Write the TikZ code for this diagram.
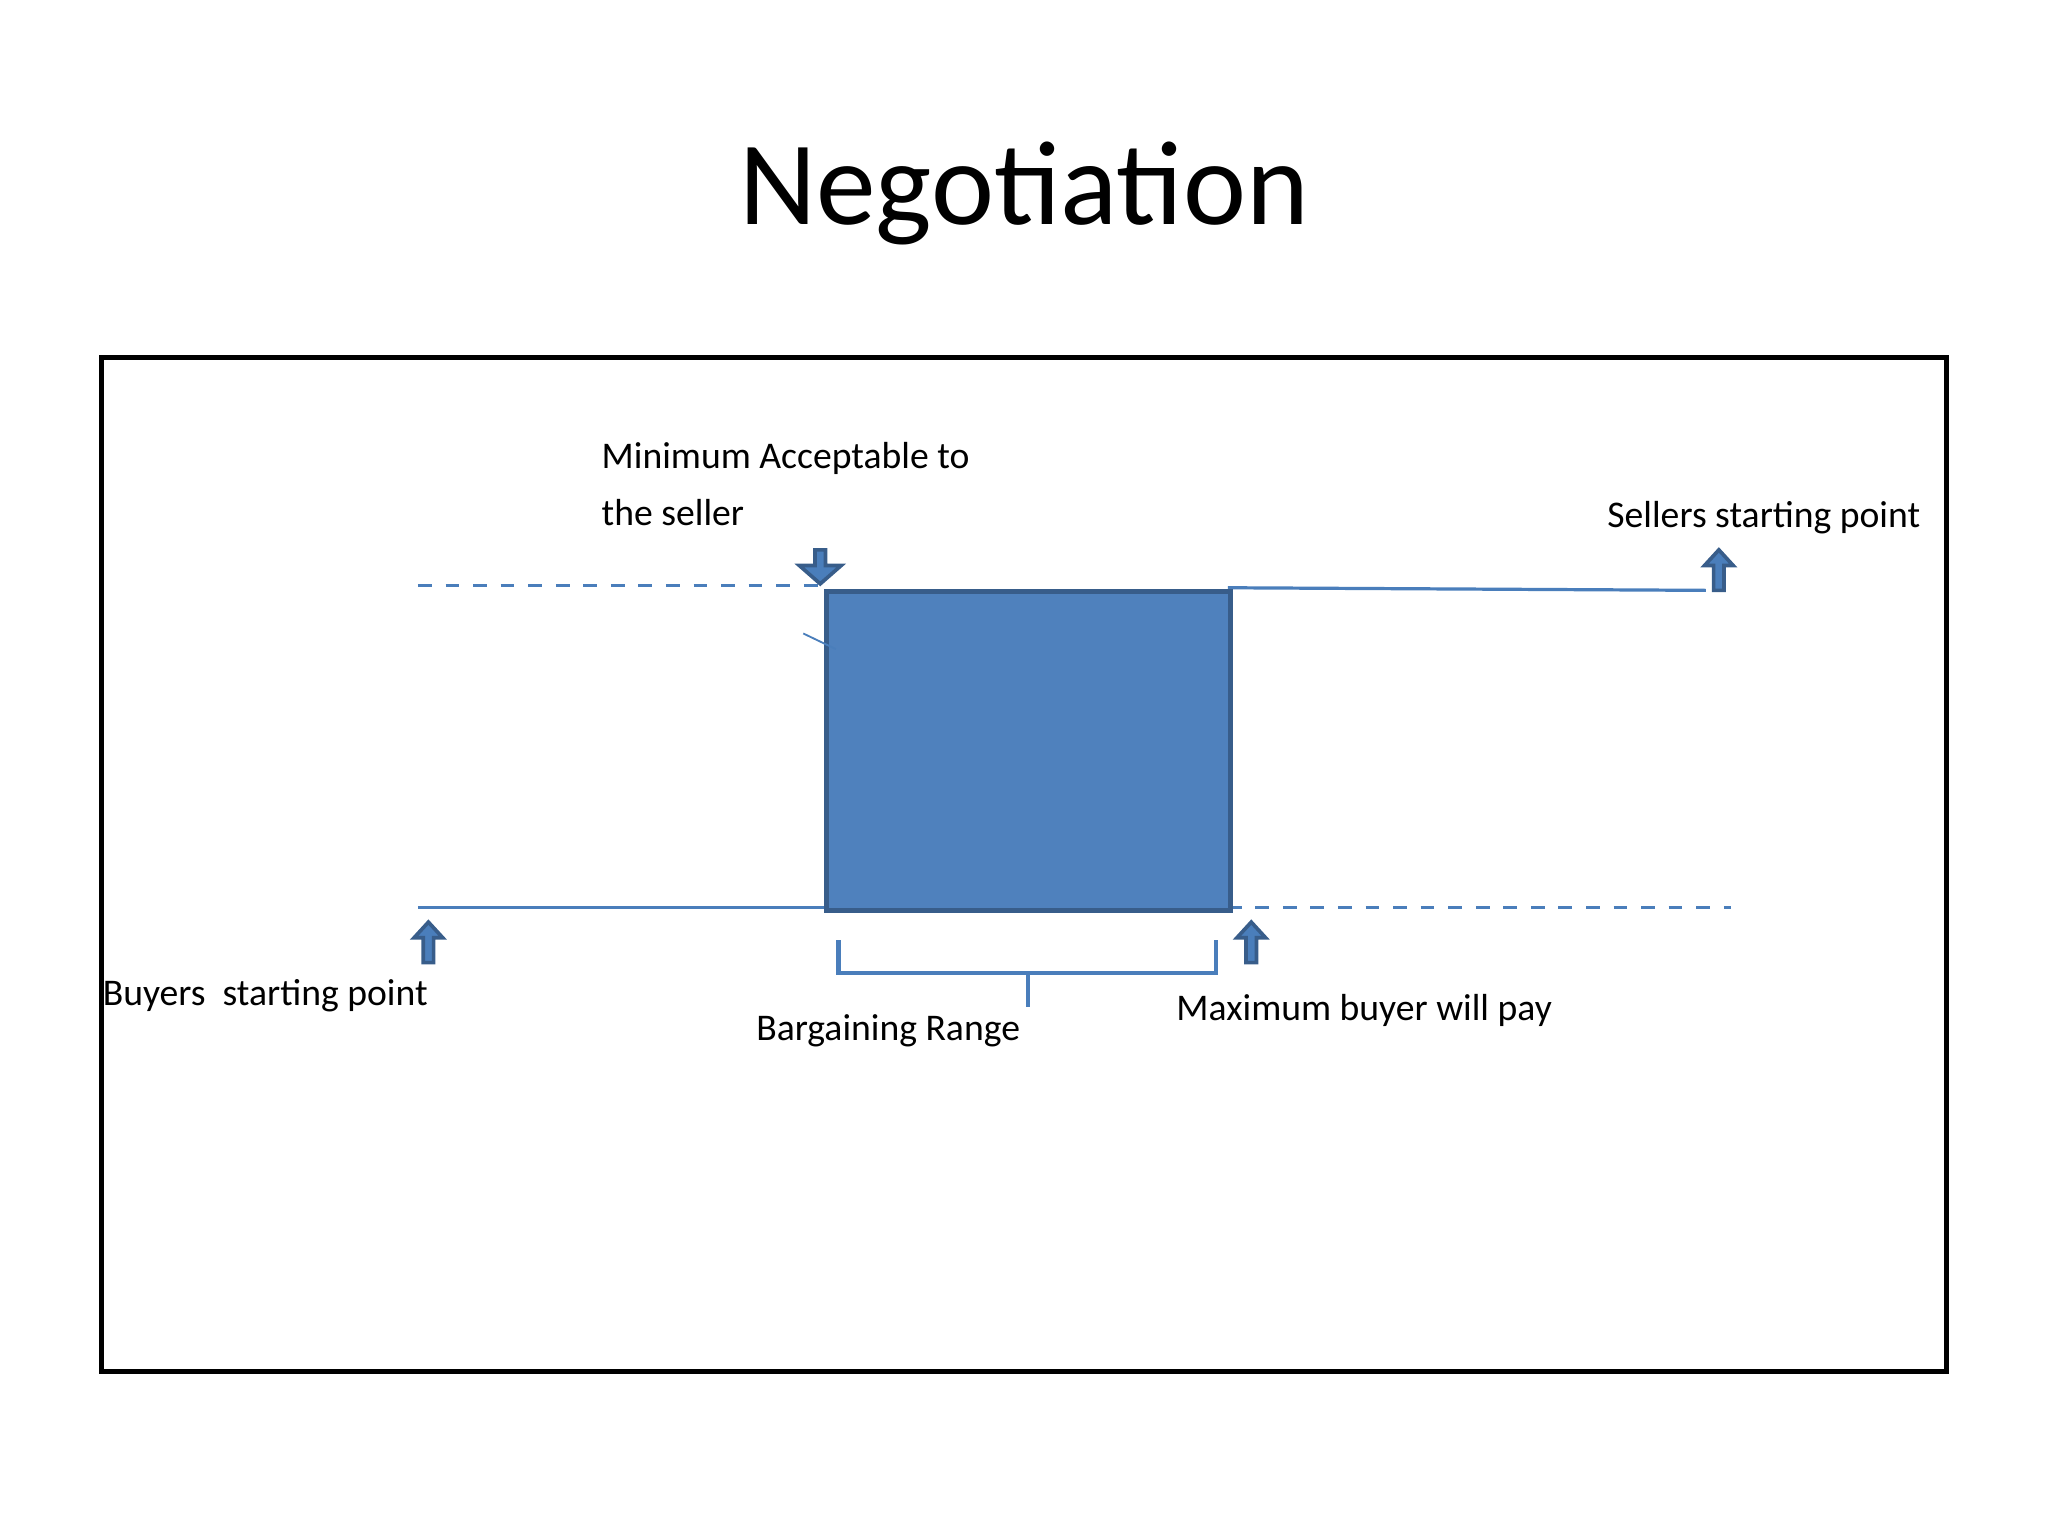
\documentclass[tikz,border=0pt]{standalone}
\usepackage{fontspec}
\setmainfont{Carlito}
\begin{document}
\begin{tikzpicture}[x=0.01cm,y=-0.01cm,
  lbl/.style={font=\fontsize{8.2}{10.5}\selectfont,inner sep=0pt},
  ln/.style={draw=blue!40!black!60!cyan,line width=0.6pt},
  blk/.style={fill=black!25!blue!70!cyan!60,draw=black!40!blue!60,line width=0.8pt}]
\definecolor{bfill}{HTML}{4F81BD}
\definecolor{bline}{HTML}{4A7EBB}
\definecolor{bdark}{HTML}{385D8A}
\tikzset{ln/.style={draw=bline,line width=0.7pt},
  arr/.style={fill=bline,draw=bdark,line width=0.8pt}}
\useasboundingbox (0,0) rectangle (1568,1176);
\node[font=\fontsize{26}{30}\selectfont] (title) at (784,148) {Negotiation};
\draw[line width=1.1pt] (78,274) rectangle (1490,1050);
% lines
\draw[ln] (940,450) -- (1306,452);
\draw[ln,dashed] (320,448) -- (631,448);
\draw[ln] (320,695) -- (631,695);
\draw[ln,dashed] (940,695) -- (1325,695);
\node[fill=bfill,draw=bdark,line width=1pt,minimum width=3.09cm,minimum height=2.44cm,anchor=north west,inner sep=0pt] (box) at (631,451) {};
\draw[ln,line width=0.4pt] (615,485) -- (640,497);
% block arrows
\newcommand{\uparr}[3]{\draw[arr] (#1-4,#3) -- (#1-4,#2+12) -- (#1-11,#2+12) -- (#1,#2) -- (#1+11,#2+12) -- (#1+4,#2+12) -- (#1+4,#3) -- cycle;}
\uparr{328}{706}{737}
\uparr{958}{706}{737}
\uparr{1316}{421}{452}
\draw[arr] (624,421) -- (624,433) -- (612,433) -- (628,447) -- (644,433) -- (632,433) -- (632,421) -- cycle;
% bracket
\draw[ln,line width=1pt] (642,720) -- (642,745) -- (931,745) -- (931,720);
\draw[ln,line width=1pt] (787,745) -- (787,771);
% labels
\node[lbl,anchor=north west,align=left] (minl) at (460,338) {Minimum Acceptable to\\[2pt]the seller};
\node[lbl,anchor=west] (sell) at (1230,396) {Sellers starting point};
\node[lbl,anchor=west] (buy) at (78,762) {Buyers\ \ starting point};
\node[lbl] (barg) at (680,789) {Bargaining Range};
\node[lbl,anchor=west] (maxl) at (900,774) {Maximum buyer will pay};
\end{tikzpicture}
\end{document}
